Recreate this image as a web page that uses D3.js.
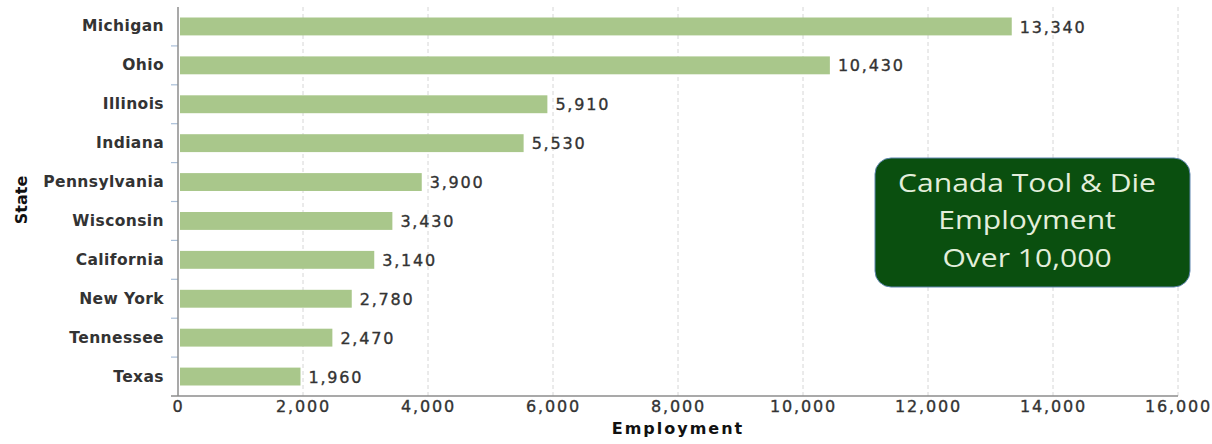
<!DOCTYPE html>
<html>
<head>
<meta charset="utf-8">
<script src="https://cdn.jsdelivr.net/npm/d3@7"></script>
<style>
  html, body { margin: 0; padding: 0; background: #fff; }
  svg { display: block; }
</style>
</head>
<body>
<svg id="chart" width="1212" height="444"></svg>
<script>
// Tool & die employment by state
const states = ["Michigan", "Ohio", "Illinois", "Indiana", "Pennsylvania",
                "Wisconsin", "California", "New York", "Tennessee", "Texas"];
const employment = [13340, 10430, 5910, 5530, 3900, 3430, 3140, 2780, 2470, 1960];
const xTicks = [0, 2000, 4000, 6000, 8000, 10000, 12000, 14000, 16000];
const calloutLines = ["Canada Tool & Die", "Employment", "Over 10,000"];

const svg = d3.select("#chart");
const plotLeft = 178, plotRight = 1178, plotTop = 7, plotBottom = 396;
const FONT = "DejaVu Sans, Verdana, sans-serif";

const x = d3.scaleLinear().domain([0, 16000]).range([plotLeft, plotRight]);
const y = d3.scaleBand().domain(states).range([plotTop, plotBottom]).paddingInner(0.54).paddingOuter(0.27);
const fmt = d3.format(",");

// dashed vertical gridlines
svg.append("g")
  .selectAll("line")
  .data(xTicks.filter(d => d > 0))
  .join("line")
  .attr("x1", d => x(d)).attr("x2", d => x(d))
  .attr("y1", plotTop).attr("y2", plotBottom)
  .attr("stroke", "#d6d6d6")
  .attr("stroke-width", 1)
  .attr("stroke-dasharray", "4,3");

// category separators on the left of the vertical axis
const band = d3.scaleBand().domain(states).range([plotTop, plotBottom]);
svg.append("g")
  .selectAll("line")
  .data(states.slice(1))
  .join("line")
  .attr("x1", plotLeft - 7).attr("x2", plotLeft)
  .attr("y1", d => band(d)).attr("y2", d => band(d))
  .attr("stroke", "#a9bfd8")
  .attr("stroke-width", 1.2);

// bars
svg.append("g")
  .selectAll("rect")
  .data(states)
  .join("rect")
  .attr("x", x(0) + 2)
  .attr("y", d => y(d))
  .attr("width", (d, i) => x(employment[i]) - x(0) - 2)
  .attr("height", y.bandwidth())
  .attr("fill", "#a9c78b");

// value labels
svg.append("g")
  .selectAll("text")
  .data(states)
  .join("text")
  .attr("x", (d, i) => x(employment[i]) + 8)
  .attr("y", d => y(d) + y.bandwidth() / 2)
  .attr("dy", "0.38em")
  .attr("font-family", FONT)
  .attr("font-size", 16)
  .attr("letter-spacing", 1.8)
  .attr("fill", "#333")
  .attr("stroke", "#333")
  .attr("stroke-width", 0.35)
  .text((d, i) => fmt(employment[i]));

// axes
const yAxis = d3.axisLeft(y).tickSize(0).tickPadding(14);
svg.append("g")
  .attr("transform", `translate(${plotLeft},0)`)
  .call(yAxis)
  .call(g => g.select(".domain").remove())
  .selectAll("text")
  .attr("font-family", FONT)
  .attr("font-size", 15.5)
  .attr("font-weight", "bold")
  .attr("letter-spacing", 0.4)
  .attr("fill", "#333");

const xAxis = d3.axisBottom(x).tickValues(xTicks).tickFormat(fmt).tickSize(0).tickPadding(5);
svg.append("g")
  .attr("transform", `translate(0,${plotBottom})`)
  .call(xAxis)
  .call(g => g.select(".domain").remove())
  .selectAll("text")
  .attr("font-family", FONT)
  .attr("font-size", 16)
  .attr("letter-spacing", 1.8)
  .attr("fill", "#333")
  .attr("stroke", "#333")
  .attr("stroke-width", 0.35);

// axis lines
svg.append("line")
  .attr("x1", plotLeft).attr("x2", plotLeft)
  .attr("y1", plotTop).attr("y2", plotBottom)
  .attr("stroke", "#8c8c8c").attr("stroke-width", 1.5);
svg.append("line")
  .attr("x1", plotLeft - 7).attr("x2", plotRight)
  .attr("y1", plotBottom).attr("y2", plotBottom)
  .attr("stroke", "#8c8c8c").attr("stroke-width", 1.5);

// axis titles
svg.append("text")
  .attr("x", 678)
  .attr("y", 434)
  .attr("text-anchor", "middle")
  .attr("font-family", FONT)
  .attr("font-size", 16)
  .attr("font-weight", "bold")
  .attr("letter-spacing", 2)
  .attr("fill", "#111")
  .text("Employment");

svg.append("text")
  .attr("transform", "translate(27,200) rotate(-90)")
  .attr("text-anchor", "middle")
  .attr("font-family", FONT)
  .attr("font-size", 16)
  .attr("font-weight", "bold")
  .attr("fill", "#111")
  .text("State");

// callout box
const box = svg.append("g").attr("transform", "translate(875,158)");
box.append("rect")
  .attr("width", 315).attr("height", 129)
  .attr("rx", 16).attr("ry", 16)
  .attr("fill", "#0a4f0f")
  .attr("stroke", "#5f86b0")
  .attr("stroke-width", 1);
box.append("g")
  .attr("transform", "translate(152,0) scale(1.18,1)")
  .selectAll("text")
  .data(calloutLines)
  .join("text")
  .attr("x", 0)
  .attr("y", (d, i) => 34 + i * 37.5)
  .attr("text-anchor", "middle")
  .attr("font-family", "'Open Sans', Lato, sans-serif")
  .attr("font-size", 25.5)
  .attr("fill", "#e3eedb")
  .text(d => d);
</script>
</body>
</html>
